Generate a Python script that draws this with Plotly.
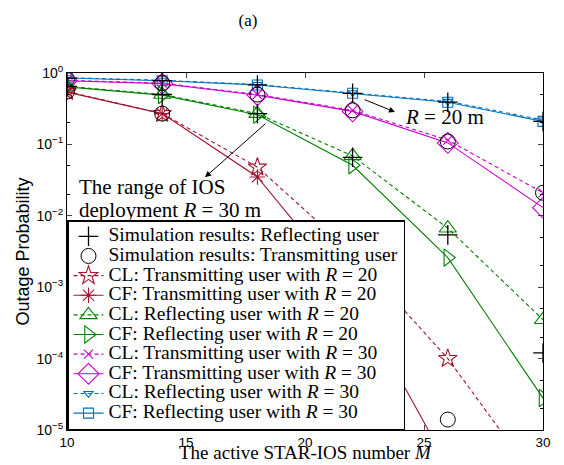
import plotly.graph_objects as go

M = [10, 14, 18, 22, 26, 30]

cl_trans_r20 = [0.55, 0.27, 0.048, 3.0e-3, 1.0e-4, 1.5e-6]
cf_trans_r20 = [0.54, 0.27, 0.035, 8.3e-4, 3.2e-6, 1e-8]
cl_refl_r20 = [0.65, 0.50, 0.27, 0.069, 6.7e-3, 3.5e-4]
cf_refl_r20 = [0.64, 0.49, 0.26, 0.051, 2.6e-3, 2.8e-5]
cl_trans_r30 = [0.79, 0.72, 0.50, 0.30, 0.115, 0.021]
cf_trans_r30 = [0.78, 0.71, 0.49, 0.29, 0.105, 0.013]
cl_refl_r30 = [0.86, 0.79, 0.69, 0.53, 0.40, 0.22]
cf_refl_r30 = [0.85, 0.78, 0.68, 0.52, 0.39, 0.21]

sim_refl_M = [10, 14, 18, 22, 26, 30, 10, 14, 18, 22, 26, 30]
sim_refl = [0.85, 0.78, 0.68, 0.52, 0.39, 0.21, 0.65, 0.50, 0.27, 0.066, 5.4e-3, 1.2e-4]
sim_trans_M = [10, 14, 18, 22, 26, 30, 10, 14, 26]
sim_trans = [0.82, 0.72, 0.50, 0.30, 0.11, 0.021, 0.55, 0.27, 1.4e-5]

ytick_vals = [1e-5, 1e-4, 1e-3, 1e-2, 1e-1, 1]
ytick_text = ["10<sup>−5</sup>", "10<sup>−4</sup>", "10<sup>−3</sup>", "10<sup>−2</sup>",
              "10<sup>−1</sup>", "10<sup>0</sup>"]
xtick_vals = [10, 15, 20, 25, 30]

RED = "#A2142F"
GREEN = "#008000"
MAG = "#CC00CC"
BLUE = "#0072BD"
DASH = "4px,3px"

fig = go.Figure()


def big(t):
    return '<span style="font-size:19.5px">' + t + '</span>'


def line(y, name, color, dash, symbol, size, rank):
    fig.add_trace(go.Scatter(
        x=M, y=y, name=big(name), mode="lines+markers", legendrank=rank,
        line=dict(color=color, width=1.1, dash=dash),
        marker=dict(symbol=symbol, size=size, color=color, line=dict(color=color, width=1.1)),
    ))


line(cf_refl_r30, "CF: Reflecting user with <i>R</i> = 30", BLUE, "solid", "square-open", 10, 10)
line(cl_refl_r30, "CL: Reflecting user with <i>R</i> = 30", BLUE, DASH, "triangle-down-open", 8, 9)
line(cf_trans_r30, "CF: Transmitting user with <i>R</i> = 30", MAG, "solid", "diamond-open", 16, 8)
line(cl_trans_r30, "CL: Transmitting user with <i>R</i> = 30", MAG, DASH, "x-thin-open", 9, 7)
line(cf_refl_r20, "CF: Reflecting user with <i>R</i> = 20", GREEN, "solid", "triangle-right-open", 15, 6)
line(cl_refl_r20, "CL: Reflecting user with <i>R</i> = 20", GREEN, DASH, "triangle-up-open", 15, 5)
line(cf_trans_r20, "CF: Transmitting user with <i>R</i> = 20", RED, "solid", "asterisk-open", 13, 4)
line(cl_trans_r20, "CL: Transmitting user with <i>R</i> = 20", RED, DASH, "star-open", 14, 3)

fig.add_trace(go.Scatter(
    x=sim_trans_M, y=sim_trans, name=big("Simulation results: Transmitting user"), mode="markers",
    legendrank=2, marker=dict(symbol="circle-open", size=15, color="black", line=dict(color="black", width=1)),
))
fig.add_trace(go.Scatter(
    x=sim_refl_M, y=sim_refl, name=big("Simulation results: Reflecting user"), mode="markers",
    legendrank=1, marker=dict(symbol="cross-thin-open", size=14, color="black", line=dict(color="black", width=1.3)),
))

# ellipses (log axis -> log10 units)
fig.add_shape(type="circle", xref="x", yref="y", x0=17.56, x1=18.42, y0=-1.60, y1=-0.45,
              line=dict(color="black", width=1))
fig.add_shape(type="circle", xref="x", yref="y", x0=21.65, x1=22.45, y0=-0.66, y1=-0.14,
              line=dict(color="black", width=1))

fig.add_annotation(x=15.8, y=-1.46, xref="x", yref="y", ax=62, ay=-55, text="",
                   showarrow=True, arrowhead=2, arrowsize=1.2, arrowwidth=1, arrowcolor="black")
fig.add_annotation(x=23.78, y=-0.546, xref="x", yref="y", ax=-32, ay=-13, text="",
                   showarrow=True, arrowhead=2, arrowsize=1.2, arrowwidth=1, arrowcolor="black")

serif = "Liberation Serif"
fig.add_annotation(x=10.42, y=-1.60, xref="x", yref="y", text="The range of IOS",
                   showarrow=False, xanchor="left", yanchor="middle",
                   font=dict(family=serif, size=21, color="black"))
fig.add_annotation(x=10.42, y=-1.92, xref="x", yref="y", text="deployment <i>R</i> = 30 m",
                   showarrow=False, xanchor="left", yanchor="middle",
                   font=dict(family=serif, size=21, color="black"))
fig.add_annotation(x=24.1, y=-0.62, xref="x", yref="y", text="<i>R</i> = 20 m",
                   showarrow=False, xanchor="left", yanchor="middle",
                   font=dict(family=serif, size=21, color="black"))

# x-axis title
fig.add_annotation(x=0.5, y=-35 / 357, xref="paper", yref="paper",
                   text="The active STAR-IOS number <i>M</i>", showarrow=False,
                   xanchor="center", yanchor="bottom",
                   font=dict(family=serif, size=19, color="black"))

fig.update_layout(
    width=564, height=465,
    margin=dict(l=67, r=21, t=73, b=35),
    paper_bgcolor="white", plot_bgcolor="white",
    title=dict(text="(a)", x=248/564, y=1 - 20/465, xanchor="center", yanchor="middle",
               font=dict(family=serif, size=17, color="black")),
    legend=dict(x=0, y=0, xanchor="left", yanchor="bottom", bgcolor="white",
                bordercolor="black", borderwidth=1.5, itemwidth=30, tracegroupgap=0,
                font=dict(family=serif, size=12.8, color="black")),
    showlegend=True,
)
fig.update_xaxes(
    range=[10, 30], tickvals=xtick_vals, ticks="inside", ticklen=5, showline=True,
    linecolor="black", linewidth=1, mirror="ticks", showgrid=False, zeroline=False,
    automargin=False,
    tickfont=dict(family="Liberation Sans", size=13.5, color="black"),
)
fig.update_yaxes(
    type="log", range=[-5, 0], tickvals=ytick_vals, ticktext=ytick_text, ticks="inside",
    ticklen=5, showline=True, linecolor="black", linewidth=1, mirror="ticks", showgrid=False,
    zeroline=False, automargin=False, tickfont=dict(family="Liberation Sans", size=14, color="black"),
    minor=dict(ticks="inside", ticklen=3, showgrid=False, tickcolor="black"),
    title=dict(text="Outage Probability", standoff=2,
               font=dict(family="Liberation Sans", size=18, color="black")),
)

fig.write_html("out.html", post_script="document.body.style.margin='0';",
               config={"displayModeBar": False})
